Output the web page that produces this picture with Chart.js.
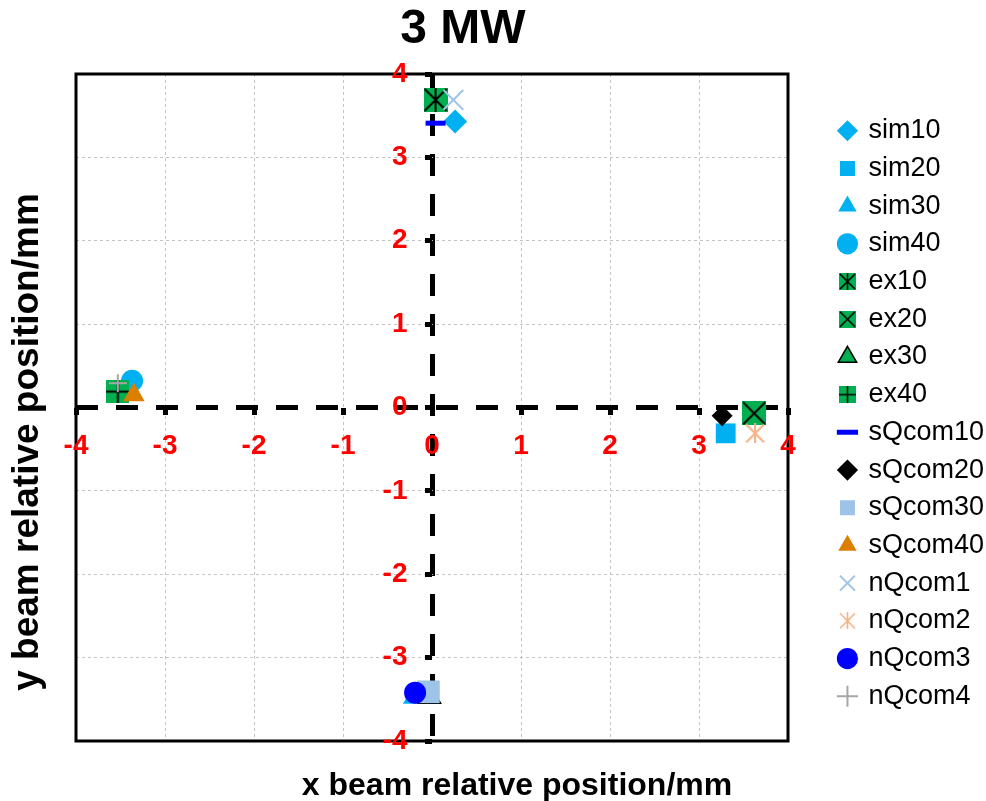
<!DOCTYPE html>
<html>
<head>
<meta charset="utf-8">
<script src="https://cdn.jsdelivr.net/npm/chart.js@4.4.1/dist/chart.umd.min.js"></script>
<style>
    html, body { margin: 0; padding: 0; background: #fff; }
    #wrap { width: 986px; height: 801px; }
</style>
</head>
<body>
<div id="wrap"><canvas id="beamChart" width="986" height="801"></canvas></div>
<script>
(function () {

    // ─────────────────────────────────────────────
    // DATA
    // ─────────────────────────────────────────────
    var chartTitle = '3 MW';
    var xTitle     = 'x beam relative position/mm';
    var yTitle     = 'y beam relative position/mm';

    var seriesNames = ['sim10', 'sim20', 'sim30', 'sim40',
                       'ex10', 'ex20', 'ex30', 'ex40',
                       'sQcom10', 'sQcom20', 'sQcom30', 'sQcom40',
                       'nQcom1', 'nQcom2', 'nQcom3', 'nQcom4'];

    var xValues = [ 0.26,  3.30, -0.19, -3.37,
                    0.04,  3.62, -0.03, -3.53,
                    0.04,  3.26, -0.04, -3.35,
                    0.24,  3.63, -0.19, -3.53];

    var yValues = [ 3.43, -0.31, -3.47,  0.32,
                    3.69, -0.07, -3.47,  0.19,
                    3.41, -0.10, -3.41,  0.15,
                    3.69, -0.31, -3.42,  0.29];

    var axisMin  = -4;
    var axisMax  = 4;
    var tickStep = 1;

    // ─────────────────────────────────────────────
    // STYLE
    // ─────────────────────────────────────────────
    var FONT   = '"Liberation Sans", Arial, sans-serif';
    var SKY    = '#00b0f0';
    var GREEN  = '#00b050';
    var PALE   = '#9dc3e6';
    var PEACH  = '#f4b183';
    var BLUE   = '#0000ff';
    var GREY   = '#a6a6a6';
    var ORANGE = '#dc7f00';

    var PLOT_RIGHT = 788;   // right edge of the plot frame
    var PAD_RIGHT  = -8;    // legend's trailing gap runs off the canvas edge

    // small canvas markers for the Excel-like "boxed" symbols
    function glyph(size, fill, kind, stroke, lw) {
        var c = document.createElement('canvas');
        c.width = size;
        c.height = size;
        var g = c.getContext('2d');
        if (fill) {
            g.fillStyle = fill;
            g.fillRect(0, 0, size, size);
        }
        g.strokeStyle = stroke;
        g.lineWidth = lw;
        g.beginPath();
        var a = 1, b = size - 1, m = size / 2;
        if (kind === 'x' || kind === 'star') {
            g.moveTo(a, a); g.lineTo(b, b);
            g.moveTo(b, a); g.lineTo(a, b);
        }
        if (kind === 'star') {
            g.moveTo(m, 0); g.lineTo(m, size);
        }
        if (kind === 'plus') {
            g.moveTo(m, 0); g.lineTo(m, size);
            g.moveTo(0, m); g.lineTo(size, m);
        }
        g.stroke();
        return c;
    }

    var markerStyles = [
        { style: 'rectRot',  r: 12,   bg: SKY },
        { style: 'rect',     r: 14,   bg: SKY },
        { style: 'triangle', r: 14,   bg: SKY },
        { style: 'circle',   r: 11,   bg: SKY },
        { style: glyph(24, GREEN, 'star', '#000', 2), r: 12, legend: glyph(17, GREEN, 'star', '#000', 1.6) },
        { style: glyph(24, GREEN, 'x', '#000', 2),    r: 12, legend: glyph(17, GREEN, 'x', '#000', 1.6) },
        { style: 'triangle', r: 13,   bg: GREEN, border: '#000', bw: 1.5 },
        { style: glyph(23, GREEN, 'plus', '#000', 2), r: 11, legend: glyph(17, GREEN, 'plus', '#000', 1.6) },
        { style: 'line',     r: 10,   border: BLUE, bw: 5 },
        { style: 'rectRot',  r: 10.5, bg: '#000' },
        { style: 'rect',     r: 16,   bg: PALE },
        { style: 'triangle', r: 12.5, bg: ORANGE },
        { style: 'crossRot', r: 14,   border: PALE, bw: 2 },
        { style: glyph(20, null, 'star', PEACH, 2),   r: 10, legend: glyph(17, null, 'star', PEACH, 1.6) },
        { style: 'circle',   r: 11,   bg: BLUE },
        { style: 'cross',    r: 9,    border: GREY, bw: 2 }
    ];

    // ─────────────────────────────────────────────
    // DATASETS
    // ─────────────────────────────────────────────
    var datasets = seriesNames.map(function (name, i) {
        var s = markerStyles[i];
        return {
            label:           name,
            data:            [{ x: xValues[i], y: yValues[i] }],
            pointStyle:      s.style,
            pointRadius:     s.r,
            backgroundColor: s.bg || 'rgba(0,0,0,0)',
            borderColor:     s.border || s.bg || 'rgba(0,0,0,0)',
            borderWidth:     s.bw || 0,
            order:           seriesNames.length - i,   // later series on top, like Excel
            legendStyle:     s.legend
        };
    });

    // ─────────────────────────────────────────────
    // SCALES
    // ─────────────────────────────────────────────
    function isZero(c) { return c.tick && c.tick.value === 0; }

    function centerAxis(padding) {
        return {
            type: 'linear',
            position: 'center',
            min: axisMin,
            max: axisMax,
            ticks: {
                stepSize: tickStep,
                color: '#ff0000',
                font: { family: FONT, size: 28, weight: 'bold' },
                padding: padding,
                z: 1
            },
            grid: {
                color:     function (c) { return isZero(c) ? '#000' : '#c4c4c4'; },
                lineWidth: function (c) { return isZero(c) ? 5 : 1; },
                tickColor: '#000',
                tickWidth: 5,
                tickLength: 7
            },
            border: {
                display: false,
                dash: function (c) { return isZero(c) ? [22, 18] : [3, 3]; }
            }
        };
    }

    // invisible axes that only reserve room round the plot
    function spacerAxis(position, sizeFn, shown) {
        var horiz = position === 'top' || position === 'bottom';
        return {
            type: 'linear',
            display: shown,
            position: position,
            min: axisMin,
            max: axisMax,
            ticks: { display: false },
            grid: { display: false, drawTicks: false },
            border: { display: false },
            afterFit: function (scale) {
                var v = sizeFn(scale);
                if (horiz) scale.height = v; else scale.width = v;
            }
        };
    }

    // ─────────────────────────────────────────────
    // PLUGINS: frame + titles
    // ─────────────────────────────────────────────
    var framePlugin = {
        id: 'plotFrame',
        beforeDatasetsDraw: function (chart) {
            var a = chart.chartArea, ctx = chart.ctx;
            ctx.save();
            ctx.strokeStyle = '#000';
            ctx.lineWidth = 3;
            ctx.strokeRect(a.left, a.top, a.right - a.left, a.bottom - a.top);
            ctx.restore();
        }
    };

    var textPlugin = {
        id: 'chartTexts',
        afterDraw: function (chart) {
            var ctx = chart.ctx;
            ctx.save();
            ctx.fillStyle = '#000';
            ctx.textAlign = 'center';
            ctx.textBaseline = 'middle';
            ctx.font = 'bold 48px ' + FONT;
            ctx.fillText(chartTitle, 463, 30);
            ctx.font = 'bold 32px ' + FONT;
            ctx.fillText(xTitle, 517, 786);
            ctx.font = 'bold 37px ' + FONT;
            ctx.translate(28, 442);
            ctx.rotate(-Math.PI / 2);
            ctx.fillText(yTitle, 0, 0);
            ctx.restore();
        }
    };

    Chart.defaults.font.family = FONT;

    new Chart(document.getElementById('beamChart').getContext('2d'), {
        type: 'scatter',
        data: { datasets: datasets },
        options: {
            responsive: false,
            devicePixelRatio: 1,
            animation: false,
            events: [],
            layout: { padding: { top: 26, right: PAD_RIGHT, bottom: 0, left: 76 } },
            scales: {
                x:       centerAxis(15),
                y:       centerAxis(17.5),
                xTop:    spacerAxis('top',    function () { return 48; }, true),
                xBottom: spacerAxis('bottom', function () { return 60; }, true),
                yRight:  spacerAxis('right',  function (s) {
                    return Math.max(0, s.chart.width - PAD_RIGHT - s.chart.legend.width - PLOT_RIGHT);
                }, false)
            },
            plugins: {
                title:   { display: false },
                tooltip: { enabled: false },
                legend: {
                    position: 'right',
                    align: 'center',
                    labels: {
                        usePointStyle: true,
                        boxWidth: 15,
                        boxHeight: 15,
                        padding: 10.7,
                        color: '#000',
                        font: { family: FONT, size: 27 },
                        sort: function (a, b) { return a.datasetIndex - b.datasetIndex; },
                        generateLabels: function (chart) {
                            var items = Chart.defaults.plugins.legend.labels.generateLabels(chart);
                            items.forEach(function (it) {
                                var ds = chart.data.datasets[it.datasetIndex];
                                if (ds.legendStyle) it.pointStyle = ds.legendStyle;
                            });
                            return items;
                        }
                    }
                }
            }
        },
        plugins: [framePlugin, textPlugin]
    });

})();
</script>
</body>
</html>
